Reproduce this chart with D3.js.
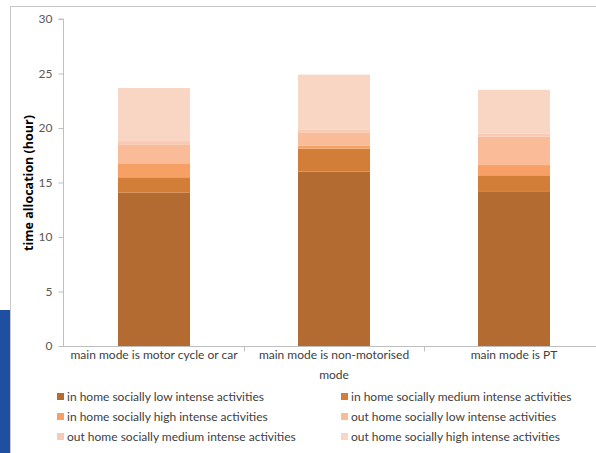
<!DOCTYPE html>
<html>
<head>
<meta charset="utf-8">
<script src="https://cdn.jsdelivr.net/npm/d3@7"></script>
<style>
  html, body { margin: 0; padding: 0; background: #fff; }
  svg { display: block; font-family: Lato, "Open Sans", sans-serif; }
</style>
</head>
<body>
<svg id="chart" width="596" height="453"></svg>
<script>
// Travel mode groups
const categories = [
  ["main mode is motor cycle or car"],
  ["main mode is non-motorised", "mode"],
  ["main mode is PT"]
];
const categoryKeys = ["car", "nonmotor", "pt"];

// Activity series (stacked bottom to top), hours per day
const seriesNames = [
  "in home socially low intense activities",
  "in home socially medium intense activities",
  "in home socially high intense activities",
  "out home socially low intense activities",
  "out home socially medium intense activities",
  "out home socially high intense activities"
];
const inHomeLow    = [14.06, 16.0, 14.2];
const inHomeMedium = [1.42, 2.1, 1.46];
const inHomeHigh   = [1.28, 0.28, 0.94];
const outHomeLow   = [1.74, 1.22, 2.6];
const outHomeMed   = [0.3, 0.25, 0.3];
const outHomeHigh  = [4.87, 5.05, 4.0];
const seriesColors = ["#b36b31", "#d27e38", "#f7a066", "#f9bb98", "#f8cab6", "#f9d5c4"];

const yTicks = [0, 5, 10, 15, 20, 25, 30];

const seriesValues = [inHomeLow, inHomeMedium, inHomeHigh, outHomeLow, outHomeMed, outHomeHigh];
const rows = categoryKeys.map((k, i) => {
  const r = { key: k };
  seriesNames.forEach((s, j) => { r[s] = seriesValues[j][i]; });
  return r;
});

const svg = d3.select("#chart");

// outer frame and side accent
svg.append("rect").attr("x", 10.5).attr("y", 6.5).attr("width", 600).attr("height", 460)
  .attr("fill", "none").attr("stroke", "#c8c8c8");
svg.append("rect").attr("x", 0).attr("y", 310).attr("width", 10).attr("height", 143)
  .attr("fill", "#1f4fa0");

const x = d3.scaleBand().domain(categoryKeys).range([64, 604]).paddingInner(0).paddingOuter(0);
const y = d3.scaleLinear().domain([0, 30]).range([346, 19]);
const barW = x.bandwidth() * 0.4;

const stack = d3.stack().keys(seriesNames)(rows);

svg.append("g").selectAll("g").data(stack).join("g")
  .attr("fill", (d, i) => seriesColors[i])
  .selectAll("rect").data(d => d).join("rect")
  .attr("x", d => x(d.data.key) + (x.bandwidth() - barW) / 2)
  .attr("width", barW)
  .attr("y", d => y(d[1]))
  .attr("height", d => y(d[0]) - y(d[1]));

// y axis
const yAxis = svg.append("g").attr("transform", "translate(63.5,0)")
  .call(d3.axisLeft(y).tickValues(yTicks).tickSize(5).tickPadding(6));
yAxis.select(".domain").attr("stroke", "#bfbfbf").attr("d", `M-5,${y(30)}H0V${y(0)}`);
yAxis.selectAll(".tick line").attr("stroke", "#bfbfbf");
yAxis.selectAll(".tick text").attr("fill", "#595959").style("font-size", "12px")
  .style("font-family", "Lato, 'Open Sans', sans-serif");

// x axis
const xAxisY = Math.round(y(0)) + 0.5;
svg.append("line").attr("x1", 63).attr("x2", 604).attr("y1", xAxisY).attr("y2", xAxisY)
  .attr("stroke", "#bfbfbf");
const bounds = [64, 244, 424];
svg.append("g").selectAll("line").data(bounds.slice(1)).join("line")
  .attr("x1", d => d + 0.5).attr("x2", d => d + 0.5)
  .attr("y1", xAxisY).attr("y2", xAxisY + 5).attr("stroke", "#bfbfbf");

// category labels
const catText = svg.append("g").selectAll("text").data(categories).join("text")
  .attr("x", (d, i) => x(categoryKeys[i]) + x.bandwidth() / 2)
  .attr("y", 359)
  .attr("text-anchor", "middle")
  .attr("fill", "#404040")
  .style("font-size", "12px");
catText.selectAll("tspan").data(d => d).join("tspan")
  .attr("x", function () { return d3.select(this.parentNode).attr("x"); })
  .attr("dy", (d, i) => i === 0 ? 0 : 20)
  .text(d => d);

// y axis title
svg.append("text")
  .attr("transform", `translate(33,183) rotate(-90)`)
  .attr("text-anchor", "middle")
  .attr("fill", "#000")
  .style("font-family", "'Open Sans', Lato, sans-serif")
  .style("font-size", "12.5px")
  .style("font-weight", "bold")
  .text("time allocation (hour)");

// legend, two columns
const legendCols = [57, 341];
const legendRows = [397, 417, 437];
const legend = svg.append("g").selectAll("g").data(seriesNames).join("g")
  .attr("transform", (d, i) => `translate(${legendCols[i % 2]},${legendRows[Math.floor(i / 2)]})`);
legend.append("rect").attr("x", 0).attr("y", -4).attr("width", 7).attr("height", 7)
  .attr("fill", (d, i) => seriesColors[i]);
legend.append("text").attr("x", 10).attr("y", 4)
  .attr("fill", "#404040").style("font-size", "12px").text(d => d);
</script>
</body>
</html>
